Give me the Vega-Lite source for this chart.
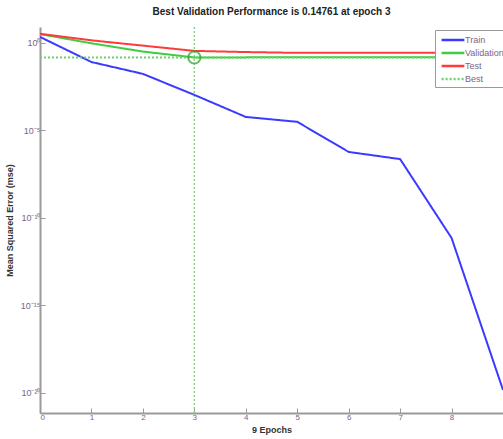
{
  "$schema": "https://vega.github.io/schema/vega-lite/v6.json",
  "width": 463,
  "height": 386,
  "autosize": {"type": "none"},
  "padding": {"left": 40, "top": 27, "right": 0, "bottom": 26},
  "background": "white",
  "title": {
    "text": "Best Validation Performance is 0.14761 at epoch 3",
    "font": "Liberation Sans",
    "fontSize": 10,
    "fontWeight": "bold",
    "color": "#222222",
    "anchor": "middle",
    "offset": 9
  },
  "config": {
    "view": {"stroke": null},
    "axis": {
      "grid": false,
      "domainColor": "#9a9a9a",
      "domainWidth": 2,
      "tickColor": "#9a9a9a",
      "tickSize": -5,
      "labelFont": "Liberation Sans",
      "labelFontSize": 8,
      "labelColor": "#7a6688",
      "titleFont": "Liberation Sans",
      "titleFontSize": 9,
      "titleFontWeight": "bold",
      "titleColor": "#333333"
    }
  },
  "layer": [
    {
      "data": {"values": [{"epoch": 3}]},
      "mark": {"type": "rule", "color": "#86d486", "strokeDash": [2, 2], "strokeWidth": 1.5},
      "encoding": {"x": {"field": "epoch", "type": "quantitative"}}
    },
    {
      "data": {
        "values": [
          {"epoch": 0, "series": "Train", "mse": 2.2},
          {"epoch": 1, "series": "Train", "mse": 0.081},
          {"epoch": 2, "series": "Train", "mse": 0.017},
          {"epoch": 3, "series": "Train", "mse": 0.00107},
          {"epoch": 4, "series": "Train", "mse": 5.9e-5},
          {"epoch": 5, "series": "Train", "mse": 3.1e-5},
          {"epoch": 6, "series": "Train", "mse": 5.9e-7},
          {"epoch": 7, "series": "Train", "mse": 2.3e-7},
          {"epoch": 8, "series": "Train", "mse": 7.2e-12},
          {"epoch": 9, "series": "Train", "mse": 1.5e-20},
          {"epoch": 0, "series": "Validation", "mse": 3.2},
          {"epoch": 1, "series": "Validation", "mse": 0.95},
          {"epoch": 2, "series": "Validation", "mse": 0.32},
          {"epoch": 3, "series": "Validation", "mse": 0.14761},
          {"epoch": 4, "series": "Validation", "mse": 0.149},
          {"epoch": 5, "series": "Validation", "mse": 0.15},
          {"epoch": 6, "series": "Validation", "mse": 0.151},
          {"epoch": 7, "series": "Validation", "mse": 0.151},
          {"epoch": 8, "series": "Validation", "mse": 0.152},
          {"epoch": 9, "series": "Validation", "mse": 0.152},
          {"epoch": 0, "series": "Test", "mse": 3.3},
          {"epoch": 1, "series": "Test", "mse": 1.4},
          {"epoch": 2, "series": "Test", "mse": 0.7},
          {"epoch": 3, "series": "Test", "mse": 0.35},
          {"epoch": 4, "series": "Test", "mse": 0.3},
          {"epoch": 5, "series": "Test", "mse": 0.27},
          {"epoch": 6, "series": "Test", "mse": 0.27},
          {"epoch": 7, "series": "Test", "mse": 0.27},
          {"epoch": 8, "series": "Test", "mse": 0.27},
          {"epoch": 9, "series": "Test", "mse": 0.27},
          {"epoch": 0, "series": "Best", "mse": 0.14761},
          {"epoch": 9, "series": "Best", "mse": 0.14761}
        ]
      },
      "mark": {"type": "line", "strokeWidth": 2, "clip": true},
      "encoding": {
        "x": {
          "field": "epoch",
          "type": "quantitative",
          "scale": {"domain": [0, 9], "nice": false, "zero": false},
          "axis": {"values": [0, 1, 2, 3, 4, 5, 6, 7, 8], "title": "9 Epochs", "labelPadding": 5, "titlePadding": 4}
        },
        "y": {
          "field": "mse",
          "type": "quantitative",
          "scale": {"type": "log", "domain": [7.2e-22, 8.1], "nice": false},
          "axis": {
            "values": [1, 1e-5, 1e-10, 1e-15, 1e-20],
            "labelExpr": "round(log(datum.value)/LN10) == 0 ? '10⁰' : round(log(datum.value)/LN10) == -5 ? '10⁻⁵' : round(log(datum.value)/LN10) == -10 ? '10⁻¹⁰' : round(log(datum.value)/LN10) == -15 ? '10⁻¹⁵' : '10⁻²⁰'",
            "labelFontSize": 9,
            "title": "Mean Squared Error  (mse)",
            "titlePadding": 6,
            "labelPadding": 5
          }
        },
        "color": {
          "field": "series",
          "type": "nominal",
          "scale": {"domain": ["Train", "Validation", "Test", "Best"], "range": ["#3b3bff", "#3fcc3f", "#ff3a3a", "#6fcf6f"]},
          "legend": {
            "title": null,
            "orient": "none",
            "legendX": 395,
            "legendY": 3,
            "symbolType": "M-2,0H2",
            "symbolSize": 130,
            "symbolOffset": 8,
            "symbolStrokeWidth": 2.5,
            "labelFont": "Liberation Sans",
            "labelFontSize": 9,
            "labelOffset": 5,
            "labelColor": "#7a6688",
            "strokeColor": "#9a9a9a",
            "fillColor": "white",
            "padding": 3,
            "rowPadding": 1
          }
        },
        "strokeDash": {
          "field": "series",
          "type": "nominal",
          "scale": {"domain": ["Train", "Validation", "Test", "Best"], "range": [[1, 0], [1, 0], [1, 0], [2, 2]]},
          "legend": null
        }
      }
    },
    {
      "data": {"values": [{"epoch": 3, "mse": 0.14761}]},
      "mark": {"type": "point", "shape": "circle", "filled": false, "size": 150, "strokeWidth": 2, "color": "#2e9e2e"},
      "encoding": {
        "x": {"field": "epoch", "type": "quantitative"},
        "y": {"field": "mse", "type": "quantitative"}
      }
    }
  ]
}
